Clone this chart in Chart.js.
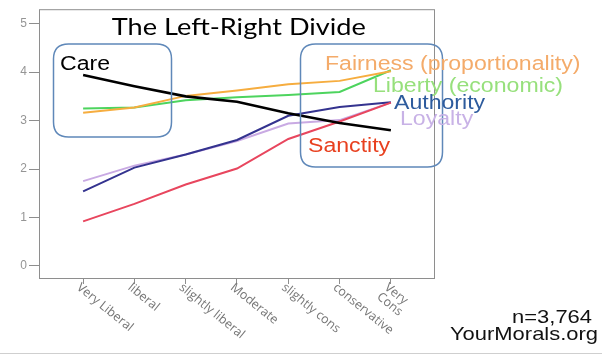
<!DOCTYPE html>
<html><head><meta charset="utf-8">
<script src="https://cdn.jsdelivr.net/npm/chart.js@4/dist/chart.umd.min.js"></script>
<style>html,body{margin:0;padding:0;background:#fff;overflow:hidden}canvas{display:block}</style>
</head><body>
<canvas id="c" width="602" height="355"></canvas>
<script>
const categories = ['Very Liberal','liberal','slightly liberal','Moderate','slightly cons','conservative',['Very','Cons']];
const care      = [3.94,3.71,3.50,3.39,3.15,2.95,2.80];
const fairness  = [3.16,3.27,3.51,3.62,3.75,3.82,4.02];
const liberty   = [3.25,3.27,3.42,3.48,3.53,3.59,4.04];
const sanctity  = [0.92,1.28,1.68,2.01,2.62,2.98,3.37];
const authority = [1.54,2.03,2.30,2.60,3.10,3.28,3.38];
const loyalty   = [1.75,2.07,2.30,2.58,2.94,3.01,3.37];
const yTicks = [0,1,2,3,4,5];
const xTicks = [0,1,2,3,4,5,6];
const titleText = 'The Left-Right Divide';
const sampleText = 'n=3,764';
const sourceText = 'YourMorals.org';

const toPts = arr => arr.map((v,i)=>({x:i,y:v}));
const SX = 1.155;

function sText(ctx, txt, x, y, size, color, align, family, sx){
  ctx.save();
  ctx.font = size + 'px ' + (family || '"Liberation Sans", Arial, sans-serif');
  ctx.fillStyle = color;
  ctx.textBaseline = 'alphabetic';
  ctx.textAlign = align || 'left';
  ctx.translate(x, y);
  ctx.scale(sx || SX, 1);
  ctx.fillText(txt, 0, 0);
  ctx.restore();
}
function rrect(ctx, x1, y1, x2, y2, r){
  ctx.beginPath();
  ctx.moveTo(x1+r, y1);
  ctx.lineTo(x2-r, y1); ctx.quadraticCurveTo(x2, y1, x2, y1+r);
  ctx.lineTo(x2, y2-r); ctx.quadraticCurveTo(x2, y2, x2-r, y2);
  ctx.lineTo(x1+r, y2); ctx.quadraticCurveTo(x1, y2, x1, y2-r);
  ctx.lineTo(x1, y1+r); ctx.quadraticCurveTo(x1, y1, x1+r, y1);
  ctx.closePath();
  ctx.stroke();
}

const deco = {
  id: 'deco',
  beforeDatasetsDraw(chart){
    const ctx = chart.ctx, a = chart.chartArea;
    ctx.save();
    ctx.strokeStyle = '#8e8e8e';
    ctx.lineWidth = 1;
    ctx.strokeRect(a.left + 0.5, a.top + 0.5, a.right - a.left - 1, a.bottom - a.top);
    ctx.restore();
  },
  afterDatasetsDraw(chart){
    const ctx = chart.ctx;
    const xs = chart.scales.x;
    // boxes
    ctx.save();
    ctx.strokeStyle = '#5f88b9';
    ctx.lineWidth = 1.5;
    rrect(ctx, 53.5, 44, 171.5, 137, 15);
    rrect(ctx, 300.5, 44, 442.5, 167, 15);
    ctx.restore();
    // series labels
    sText(ctx, 'Care', 60, 69.5, 20, '#000000');
    sText(ctx, 'Fairness (proportionality)', 325, 69.5, 20, '#f4ab6a');
    sText(ctx, 'Liberty (economic)', 373, 91.5, 20, '#97e07c');
    sText(ctx, 'Loyalty', 400, 124.5, 20, '#c8b2e6');
    sText(ctx, 'Authority', 394, 109, 20, '#2d5b9d');
    sText(ctx, 'Sanctity', 308, 151.5, 20, '#e8401f');
    // title
    ctx.save();
    ctx.font = '23px Lato, sans-serif';
    const tw = ctx.measureText(titleText).width;
    ctx.restore();
    sText(ctx, titleText, 238.8, 35, 23, '#000000', 'center', 'Lato, sans-serif', 254 / tw);
    // footer
    sText(ctx, sampleText, 592, 323, 19, '#111111', 'right');
    sText(ctx, sourceText, 598, 340, 19, '#111111', 'right');
    // x tick labels
    ctx.save();
    ctx.font = '12.5px "Open Sans", sans-serif';
    ctx.fillStyle = '#767676';
    ctx.textBaseline = 'top';
    ctx.textAlign = 'left';
    xTicks.forEach((v, i) => {
      const px = xs.getPixelForValue(v);
      const lab = categories[i];
      const lines = Array.isArray(lab) ? lab : [lab];
      ctx.save();
      ctx.translate(px - 1, 281);
      ctx.rotate(39 * Math.PI / 180);
      lines.forEach((ln, j) => ctx.fillText(ln, 0, j * 12));
      ctx.restore();
    });
    ctx.restore();
    // bottom rule
    ctx.save();
    ctx.strokeStyle = '#cfcfcf';
    ctx.lineWidth = 1;
    ctx.beginPath(); ctx.moveTo(0, 353.5); ctx.lineTo(602, 353.5); ctx.stroke();
    ctx.restore();
  }
};

const ds = (label, data, color, w) => ({label, data: toPts(data), borderColor: color, backgroundColor: color, borderWidth: w || 2, pointRadius: 0, tension: 0, fill: false});

new Chart(document.getElementById('c'), {
  type: 'line',
  data: {
    datasets: [
      ds('Care', care, '#000000', 2.6),
      ds('Fairness (proportionality)', fairness, '#f6ad3f', 2),
      ds('Liberty (economic)', liberty, '#4dd45e', 2),
      ds('Sanctity', sanctity, '#e8465e', 2),
      ds('Authority', authority, '#34338f', 2),
      ds('Loyalty', loyalty, '#c9aae3', 2)
    ]
  },
  options: {
    responsive: false,
    animation: false,
    events: [],
    layout: {padding: {left: 0, top: 8, right: 167, bottom: 0}},
    plugins: {legend: {display: false}, tooltip: {enabled: false}, title: {display: false}},
    scales: {
      x: {
        type: 'linear', min: -0.86, max: 6.86,
        afterBuildTicks: s => { s.ticks = xTicks.map(v => ({value: v})); },
        afterFit: s => { s.height = 77; },
        ticks: {display: false},
        grid: {drawOnChartArea: false, drawTicks: true, tickLength: 6, color: '#8e8e8e'},
        border: {display: false}
      },
      y: {
        type: 'linear', min: -0.25, max: 5.3,
        afterBuildTicks: s => { s.ticks = yTicks.map(v => ({value: v})); },
        afterFit: s => { s.width = 39; },
        ticks: {padding: 2, color: '#959595', font: {family: '"Liberation Sans", Arial, sans-serif', size: 12}, callback: v => String(v)},
        grid: {drawOnChartArea: false, drawTicks: true, tickLength: 10, color: '#8e8e8e'},
        border: {display: false}
      }
    }
  },
  plugins: [deco]
});
</script>
</body></html>
